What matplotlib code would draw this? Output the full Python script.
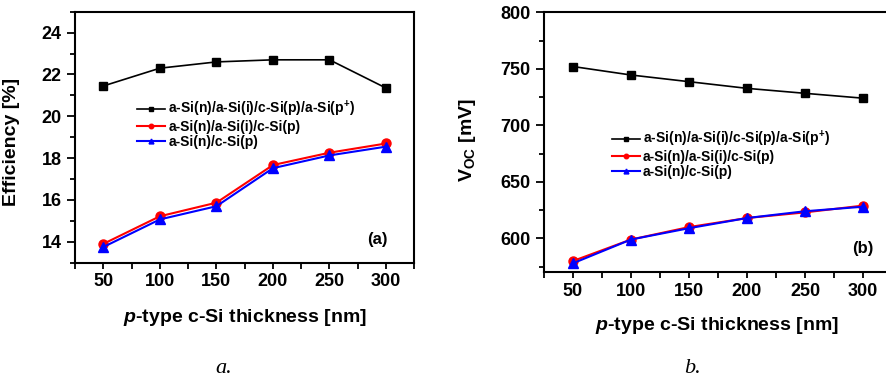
import matplotlib
matplotlib.use("Agg")
import matplotlib.pyplot as plt
from matplotlib.ticker import MultipleLocator

plt.rcParams["font.family"] = ["Liberation Sans", "DejaVu Sans"]
plt.rcParams["font.weight"] = "bold"
plt.rcParams["mathtext.fontset"] = "custom"
plt.rcParams["mathtext.rm"] = "Liberation Sans:bold"
plt.rcParams["mathtext.bf"] = "Liberation Sans:bold"
plt.rcParams["mathtext.it"] = "Liberation Sans:bold:italic"

# thickness of p-type c-Si layer [nm]
thickness = [50, 100, 150, 200, 250, 300]

# (a) efficiency [%]
eff_pplus = [21.45, 22.3, 22.6, 22.7, 22.7, 21.35]
eff_ni = [13.9, 15.22, 15.87, 17.67, 18.26, 18.7]
eff_n = [13.75, 15.07, 15.7, 17.52, 18.13, 18.55]

# (b) open-circuit voltage [mV]
voc_pplus = [752, 744.5, 738.6, 732.7, 728.3, 724]
voc_ni = [580, 599, 610, 618, 623, 629]
voc_n = [578, 599, 609, 618, 624, 628]

labels = [r"a-Si(n)/a-Si(i)/c-Si(p)/a-Si(p$^{+}$)",
          "a-Si(n)/a-Si(i)/c-Si(p)",
          "a-Si(n)/c-Si(p)"]

fig = plt.figure(figsize=(8.87, 3.78), dpi=100)
ax1 = fig.add_axes([0.0846, 0.305, 0.3825, 0.664])
ax2 = fig.add_axes([0.6133, 0.2796, 0.3923, 0.688])


def draw(ax, ys):
    ax.plot(thickness, ys[0], "-s", color="black", lw=1.2, ms=6, label=labels[0])
    ax.plot(thickness, ys[1], "-o", color="red", lw=1.5, ms=6.5, label=labels[1])
    ax.plot(thickness, ys[2], "-^", color="blue", lw=1.5, ms=7, label=labels[2])
    ax.set_xlim(25, 325)
    ax.xaxis.set_major_locator(MultipleLocator(50))
    ax.xaxis.set_minor_locator(MultipleLocator(25))
    for s in ax.spines.values():
        s.set_linewidth(1.5)
    ax.tick_params(which="both", direction="out", top=False, right=False,
                   width=1.3, labelsize=13)
    ax.tick_params(axis="y", which="major", length=6)
    ax.tick_params(axis="y", which="minor", length=3.5)
    ax.tick_params(axis="x", which="both", length=4)
    for t in ax.get_xticklabels() + ax.get_yticklabels():
        t.set_fontweight("bold")
    ax.set_xlabel(r"$p$-type c-Si thickness [nm]", fontsize=14, fontweight="bold")


def legend(ax, anchor):
    ax.legend(loc="center left", bbox_to_anchor=anchor, frameon=False,
              handlelength=2.0, handletextpad=0.25, labelspacing=0.05,
              borderpad=0, borderaxespad=0, markerscale=0.5, numpoints=1,
              prop={"weight": "bold", "size": 10})


draw(ax1, [eff_pplus, eff_ni, eff_n])
ax1.set_ylim(13, 25)
ax1.yaxis.set_major_locator(MultipleLocator(2))
ax1.yaxis.set_minor_locator(MultipleLocator(1))
ax1.set_ylabel("Efficiency [%]", fontsize=14, fontweight="bold")
ax1.yaxis.set_label_coords(-0.162, 0.48)
ax1.xaxis.set_label_coords(0.501, -0.176)
ax1.text(0.89, 0.094, "(a)", transform=ax1.transAxes, ha="center", va="center",
         fontsize=12, fontweight="bold")
legend(ax1, (0.183, 0.553))

draw(ax2, [voc_pplus, voc_ni, voc_n])
ax2.set_ylim(570, 800)
ax2.yaxis.set_major_locator(MultipleLocator(50))
ax2.yaxis.set_minor_locator(MultipleLocator(25))
ax2.set_ylabel(r"V$_{\mathrm{OC}}$ [mV]", fontsize=14, fontweight="bold")
ax2.yaxis.set_label_coords(-0.19, 0.51)
ax2.xaxis.set_label_coords(0.4986, -0.164)
ax2.text(0.917, 0.092, "(b)", transform=ax2.transAxes, ha="center", va="center",
         fontsize=12, fontweight="bold")
legend(ax2, (0.195, 0.456))

fig.text(0.2525, 0.024, "a.", family="Liberation Serif", style="italic",
         fontweight="normal", fontsize=16, ha="center", va="center")
fig.text(0.781, 0.024, "b.", family="Liberation Serif", style="italic",
         fontweight="normal", fontsize=16, ha="center", va="center")

fig.savefig("out.png", dpi=100)
